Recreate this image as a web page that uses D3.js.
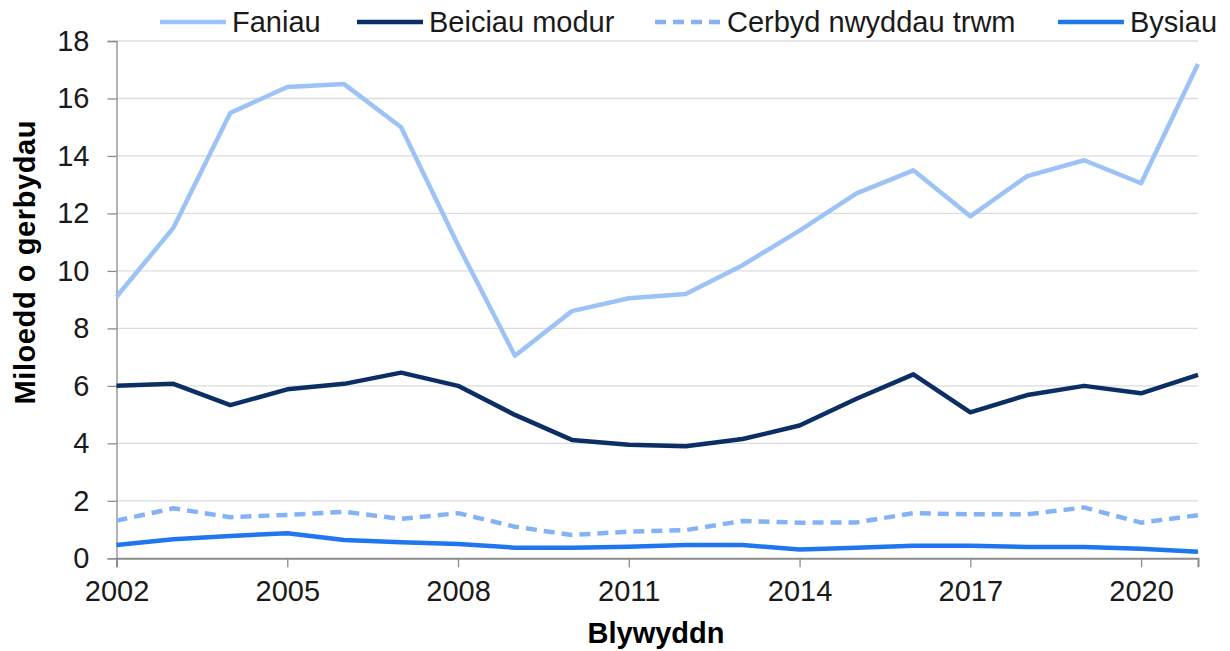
<!DOCTYPE html>
<html><head><meta charset="utf-8">
<script src="https://cdn.jsdelivr.net/npm/d3@7"></script>
<style>body{margin:0;background:#fff;} text{font-family:"Liberation Sans",Arial,sans-serif;}</style>
</head><body>
<svg id="c" width="1230" height="651"></svg>
<script>
const years = [2002,2003,2004,2005,2006,2007,2008,2009,2010,2011,2012,2013,2014,2015,2016,2017,2018,2019,2020,2021];
const faniau = [9.1,11.5,15.5,16.4,16.5,15.0,10.9,7.05,8.6,9.05,9.2,10.2,11.4,12.7,13.5,11.9,13.3,13.85,13.05,17.2];
const beiciau = [6.0,6.07,5.33,5.88,6.07,6.46,6.0,4.99,4.12,3.95,3.9,4.15,4.62,5.55,6.4,5.08,5.68,6.0,5.74,6.38];
const cerbyd = [1.31,1.74,1.43,1.51,1.62,1.37,1.57,1.1,0.81,0.93,0.98,1.3,1.24,1.25,1.57,1.53,1.53,1.77,1.24,1.5];
const bysiau = [0.46,0.66,0.78,0.87,0.64,0.56,0.5,0.37,0.37,0.4,0.46,0.46,0.31,0.37,0.44,0.44,0.39,0.39,0.33,0.23];
const yTicks = [0,2,4,6,8,10,12,14,16,18];
const xTicks = [2002,2005,2008,2011,2014,2017,2020];
const seriesNames = ["Faniau","Beiciau modur","Cerbyd nwyddau trwm","Bysiau"];
const seriesColors = ["#9dc3f6","#0b2f65","#84b3f5","#1f76ef"];
const seriesDash = [null,null,"11,7",null];
const seriesData = [faniau,beiciau,cerbyd,bysiau];

const svg = d3.select("#c");
const x = d3.scaleLinear().domain([2002,2021]).range([116.5,1198]);
const y = d3.scaleLinear().domain([0,18]).range([558.3,41]);

// gridlines
svg.append("g").selectAll("line").data(yTicks.filter(d=>d>0)).join("line")
  .attr("x1",116.5).attr("x2",1198).attr("y1",d=>y(d)).attr("y2",d=>y(d))
  .attr("stroke","#dcdcdc").attr("stroke-width",1.3);

// y axis
const yAxis = svg.append("g").attr("transform","translate(116.5,0)")
  .call(d3.axisLeft(y).tickValues(yTicks).tickSize(9).tickPadding(18).tickFormat(d3.format("d")));
yAxis.select(".domain").attr("stroke","#8c8c8c").attr("stroke-width",1.3);
yAxis.selectAll(".tick line").attr("stroke","#8c8c8c").attr("stroke-width",1.3);
yAxis.selectAll("text").attr("font-size",29).attr("fill","#1a1a1a").attr("font-family","Liberation Sans, Arial, sans-serif");

// x axis
const xAxis = svg.append("g").attr("transform","translate(0,558.3)")
  .call(d3.axisBottom(x).tickValues(xTicks).tickSize(9).tickPadding(13).tickFormat(d3.format("d")));
xAxis.select(".domain").attr("stroke","#8c8c8c").attr("stroke-width",2);
xAxis.selectAll(".tick line").attr("stroke","#8c8c8c").attr("stroke-width",1.3);
xAxis.selectAll("text").attr("font-size",29).attr("fill","#1a1a1a").attr("font-family","Liberation Sans, Arial, sans-serif");

// lines
const line = d3.line().x((d,i)=>x(years[i])).y(d=>y(d));
seriesData.slice().reverse().forEach((data,ri)=>{
  const i = seriesData.length-1-ri;
  svg.append("path").datum(data).attr("d",line)
    .attr("fill","none").attr("stroke",seriesColors[i]).attr("stroke-width",4.5)
    .attr("stroke-linejoin","round")
    .attr("stroke-dasharray",seriesDash[i]);
});

// axis titles
svg.append("text").attr("x",656).attr("y",643).attr("text-anchor","middle")
  .attr("font-size",29).attr("font-weight","bold").attr("fill","#000").text("Blywyddn");
svg.append("text").attr("transform","translate(35,262.5) rotate(-90)").attr("text-anchor","middle")
  .attr("font-size",29).attr("font-weight","bold").attr("fill","#000")
  .attr("textLength",284).attr("lengthAdjust","spacing").text("Miloedd o gerbydau");

// legend
const legendX = [160,357,655,1058];
const leg = svg.append("g");
seriesNames.forEach((n,i)=>{
  leg.append("line").attr("x1",legendX[i]).attr("x2",legendX[i]+66).attr("y1",22).attr("y2",22)
    .attr("stroke",seriesColors[i]).attr("stroke-width",4.5).attr("stroke-dasharray",seriesDash[i]?"11,7":null);
  leg.append("text").attr("x",legendX[i]+72).attr("y",32).attr("font-size",29).attr("fill","#1a1a1a").text(n);
});
</script>
</body></html>
